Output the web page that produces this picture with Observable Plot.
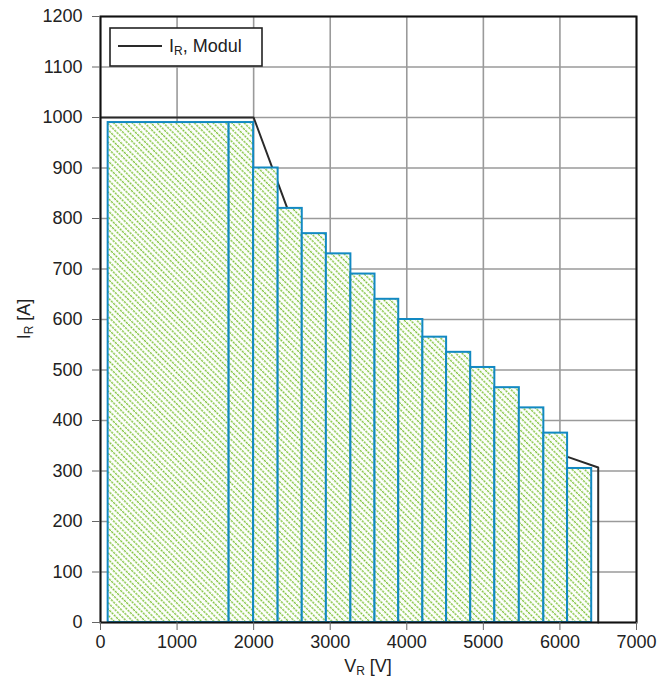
<!DOCTYPE html>
<html>
<head>
<meta charset="utf-8">
<script src="https://cdn.jsdelivr.net/npm/d3@7"></script>
<script src="https://cdn.jsdelivr.net/npm/@observablehq/plot@0.6"></script>
<style>
  html, body { margin: 0; padding: 0; background: #fff; }
  #chart { width: 663px; height: 679px; }
  svg text { font-family: "Liberation Sans", Arial, sans-serif; }
</style>
</head>
<body>
<div id="chart"></div>
<script>
// Pulse-width current steps (V_R ranges and I_R)
const barStart   = [100, 1680, 2000, 2320, 2635, 2950, 3270, 3585, 3895, 4210, 4520, 4835, 5150, 5470, 5790, 6100];
const barEnd     = [1680, 2000, 2320, 2635, 2950, 3270, 3585, 3895, 4210, 4520, 4835, 5150, 5470, 5790, 6100, 6415];
const barCurrent = [990, 990, 900, 820, 770, 730, 690, 640, 600, 565, 535, 505, 465, 425, 375, 305];

// Module curve I_R(V_R)
const moduleV = [0, 2000, 2440, 2635, 2950, 3270, 3585, 3895, 4210, 4520, 4835, 5150, 5470, 5790, 6100, 6500, 6500];
const moduleI = [1000, 1000, 820, 765, 725, 685, 635, 595, 560, 530, 500, 460, 420, 370, 328, 307, 0];

const xTicks = [0, 1000, 2000, 3000, 4000, 5000, 6000, 7000];
const yTicks = [0, 100, 200, 300, 400, 500, 600, 700, 800, 900, 1000, 1100, 1200];

const bars = barStart.map((s, i) => ({x1: s, x2: barEnd[i], y: barCurrent[i]}));
const modul = moduleV.map((v, i) => ({v, i: moduleI[i]}));

const W = 663, H = 679;
const ml = 100, mr = 27, mt = 16, mb = 57;
const fmt = d3.format("d");

const svg = Plot.plot({
  width: W,
  height: H,
  marginLeft: ml,
  marginRight: mr,
  marginTop: mt,
  marginBottom: mb,
  style: {fontFamily: '"Liberation Sans", Arial, sans-serif', fontSize: "18px", color: "#222", background: "#fff"},
  x: {domain: [0, 7000], ticks: xTicks, tickFormat: fmt},
  y: {domain: [0, 1200], ticks: yTicks, tickFormat: fmt},
  marks: [
    Plot.gridX(xTicks, {stroke: "#9a9a9a", strokeOpacity: 1, strokeWidth: 1.6}),
    Plot.gridY(yTicks, {stroke: "#9a9a9a", strokeOpacity: 1, strokeWidth: 1.6}),
    Plot.line(modul, {x: "v", y: "i", stroke: "#2a2a2a", strokeWidth: 2}),
    Plot.rect(bars, {x1: "x1", x2: "x2", y1: 0, y2: "y", fill: "white"}),
    Plot.rect(bars, {x1: "x1", x2: "x2", y1: 0, y2: "y", fill: "url(#hatch)", stroke: "#1289c2", strokeWidth: 2}),
    Plot.frame({stroke: "#111", strokeWidth: 2}),
    Plot.axisX(xTicks, {tickSize: 8, tickPadding: 5, stroke: "#666", fill: "#222", fontSize: 18, label: null, tickFormat: fmt}),
    Plot.axisY(yTicks, {tickSize: 8, tickPadding: 10, stroke: "#666", fill: "#222", fontSize: 18, label: null, tickFormat: fmt})
  ]
});

const ns = "http://www.w3.org/2000/svg";
function el(tag, attrs, parent) {
  const e = document.createElementNS(ns, tag);
  for (const k in attrs) e.setAttribute(k, attrs[k]);
  (parent || svg).appendChild(e);
  return e;
}

// hatch pattern
const defs = el("defs", {});
svg.insertBefore(defs, svg.firstChild);
const pat = el("pattern", {id: "hatch", patternUnits: "userSpaceOnUse", width: 4.4, height: 3.2, patternTransform: "rotate(-45)"}, defs);
el("rect", {x: 0, y: 0, width: 4.4, height: 3.2, fill: "white"}, pat);
el("line", {x1: 2.2, y1: 0, x2: 2.2, y2: 3.2, stroke: "#84c441", "stroke-width": 1.4, "stroke-dasharray": "2.3 0.9"}, pat);

// rich text helper with subscript
function subText(x, y, main, sub, rest, attrs) {
  const t = el("text", Object.assign({x, y, fill: "#222", "font-size": 18, "text-anchor": "start"}, attrs || {}));
  const a = el("tspan", {}, t); a.textContent = main;
  const b = el("tspan", {"font-size": 12, dy: 3}, t); b.textContent = sub;
  const c = el("tspan", {dy: -3}, t); c.textContent = rest;
  return t;
}

// legend
el("rect", {x: 110, y: 28, width: 152, height: 38, fill: "white", stroke: "#222", "stroke-width": 1.6});
el("line", {x1: 118, y1: 46, x2: 162, y2: 46, stroke: "#2a2a2a", "stroke-width": 2});
subText(169, 52, "I", "R", ", Modul", {"font-size": 18});

// axis labels
subText((ml + W - mr) / 2, 672, "V", "R", " [V]", {"text-anchor": "middle", "font-size": 18});
subText(0, 0, "I", "R", " [A]", {"text-anchor": "middle", "font-size": 18, transform: `translate(30,${(mt + H - mb) / 2}) rotate(-90)`});

document.getElementById("chart").appendChild(svg);
</script>
</body>
</html>
